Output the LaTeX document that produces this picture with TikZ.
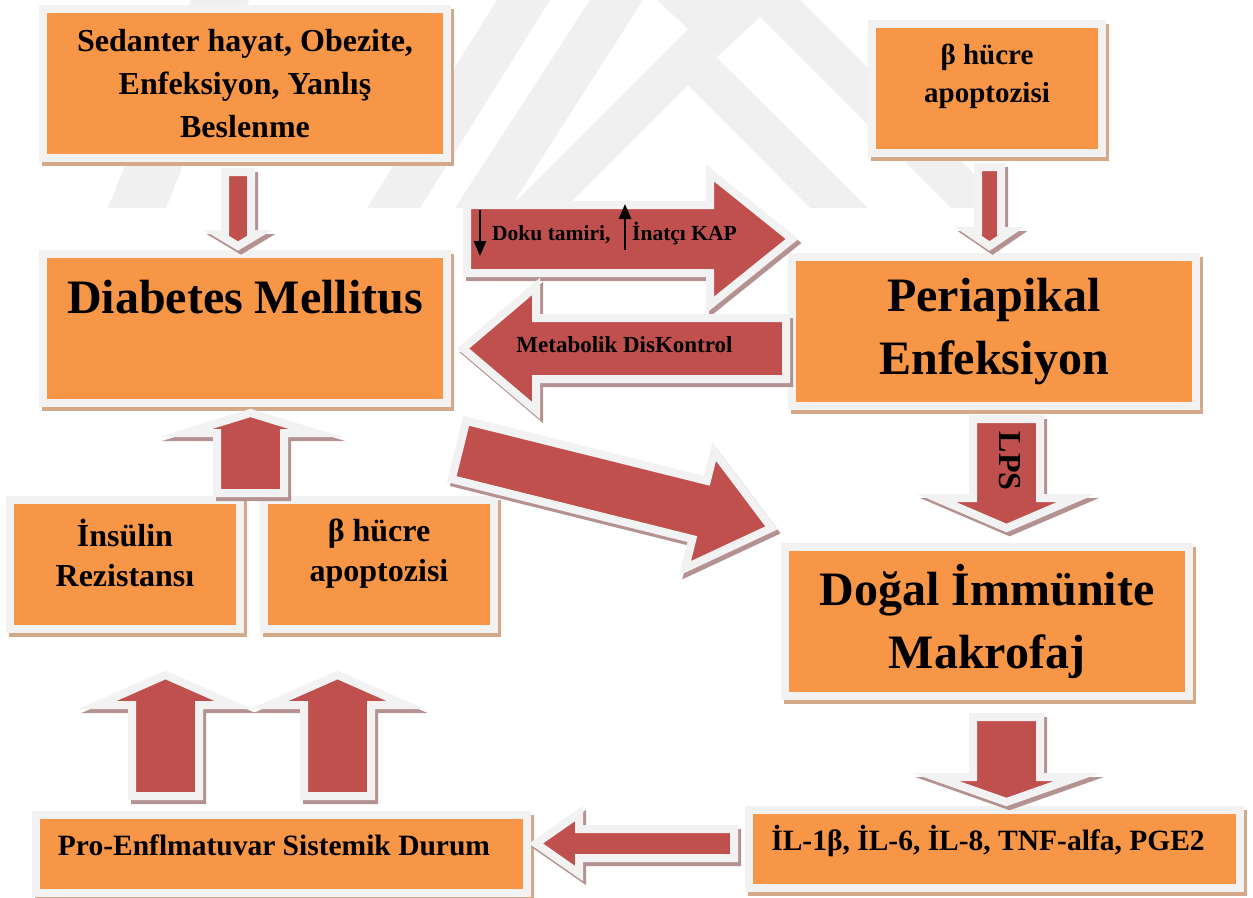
\documentclass[tikz,border=0pt]{standalone}
\usepackage{fontspec}
\setmainfont{Liberation Serif}
\usetikzlibrary{arrows.meta}
\definecolor{boxorange}{HTML}{F79646}
\definecolor{bordergray}{HTML}{F2F2F2}
\definecolor{boxshade}{HTML}{D3A98A}
\definecolor{arrowred}{HTML}{C0504D}
\definecolor{arrowshade}{HTML}{B59292}
\definecolor{wmgray}{HTML}{F0F0F0}
\tikzset{
  boxnode/.style={rectangle, draw=bordergray, fill=boxorange, line width=8pt, outer sep=0pt, inner sep=0pt,
    preaction={draw=boxshade, fill=boxshade, line width=8pt, transform canvas={xshift=3pt,yshift=-4pt}}},
  txt/.style={inner sep=0pt, align=center, font=\bfseries},
  pics/blockarrow/.style args={#1/#2/#3/#4}{code={
    \path[pic actions] (0,-#3) -- (#2,-#3) -- (#2,-#4) -- (#1,0) -- (#2,#4) -- (#2,#3) -- (0,#3) -- cycle;
  }},
  arrowshadow/.style={draw=arrowshade, fill=arrowshade, line width=8pt, line join=miter, miter limit=12},
  arrowbody/.style={draw=bordergray, fill=arrowred, line width=8pt, line join=miter, miter limit=12},
  smallarrow/.style={line width=2.4pt, -{Triangle[width=12pt,length=15pt]}},
  watermark/.style={fill=wmgray, draw=none}
}
\newcommand\drawblockarrow[3]{%
  \pic[arrowshadow, rotate=#1] at ([shift={(3,4)}]#2) {blockarrow=#3};
  \pic[arrowbody, rotate=#1] at (#2) {blockarrow=#3};}
\begin{document}
\begin{tikzpicture}[x=1pt,y=-1pt]
\useasboundingbox[fill=white] (0,0) rectangle (1253,897);
% watermark
\path[watermark] (509,208) -- (688,29) -- (868,208) -- (810,208) -- (688,85) -- (565,208) -- cycle;
\path[watermark] (657,0) -- (800,0) -- (1008,208) -- (951,208) -- (760,17) -- (717,57) -- (688,29) -- cycle;
\path[watermark] (455,208) -- (510,208) -- (643,0) -- (590,0) -- cycle;
\path[watermark] (367,208) -- (420,208) -- (550,0) -- (497,0) -- cycle;
\path[watermark] (108,208) -- (166,208) -- (249,0) -- (191,0) -- cycle;
% boxes
\node[boxnode, minimum width=404pt, minimum height=149pt] (b1) at (245,83.5) {};
\node[boxnode, minimum width=404pt, minimum height=149pt] (b2) at (245,328.5) {};
\node[boxnode, minimum width=230pt, minimum height=129pt] (b3) at (987,88.5) {};
\node[boxnode, minimum width=404pt, minimum height=149pt] (b4) at (994,331.5) {};
\node[boxnode, minimum width=404pt, minimum height=149pt] (b5) at (987,621.5) {};
\node[boxnode, minimum width=491pt, minimum height=78pt] (b6) at (994.5,849) {};
\node[boxnode, minimum width=491pt, minimum height=78pt] (b7) at (281.5,854) {};
\node[boxnode, minimum width=230pt, minimum height=129pt] (b8) at (125,564.5) {};
\node[boxnode, minimum width=230pt, minimum height=129pt] (b9) at (379,564.5) {};
% texts
\node[txt, font=\fontsize{32}{43}\selectfont\bfseries] (t1) at (245,84) {Sedanter hayat, Obezite,\\Enfeksiyon, Yanlış\\Beslenme};
\node[txt, font=\fontsize{48}{63}\selectfont\bfseries, anchor=base] (t2) at (245,313) {Diabetes Mellitus};
\node[txt, font=\fontsize{29}{38}\selectfont\bfseries] (t3) at (987,76) {β hücre\\apoptozisi};
\node[txt, font=\fontsize{48}{63}\selectfont\bfseries] (t4) at (994,331.5) {Periapikal\\Enfeksiyon};
\node[txt, font=\fontsize{48}{63}\selectfont\bfseries] (t5) at (987,621.5) {Doğal İmmünite\\Makrofaj};
\node[txt, font=\fontsize{29.5}{36}\selectfont\bfseries, anchor=base] (t6) at (988,850) {İL-1β, İL-6, İL-8, TNF-alfa, PGE2};
\node[txt, font=\fontsize{29.5}{36}\selectfont\bfseries, anchor=base] (t7) at (274,855) {Pro-Enflmatuvar Sistemik Durum};
\node[txt, font=\fontsize{32}{40}\selectfont\bfseries] (t8) at (125,553) {İnsülin\\Rezistansı};
\node[txt, font=\fontsize{32}{40}\selectfont\bfseries] (t9) at (379,554) {β hücre\\apoptozisi};
% block arrows
\coordinate (a1) at (238,172);
\coordinate (a2) at (989.5,167);
\coordinate (a3) at (1006.5,419);
\coordinate (a4) at (1006.5,717);
\coordinate (a5) at (467,239);
\coordinate (a6) at (786,348.5);
\coordinate (a7) at (459,450);
\coordinate (a8) at (734,843.5);
\coordinate (a9) at (250.5,493);
\coordinate (a10) at (165.5,796);
\coordinate (a11) at (337.5,796);
\drawblockarrow{-90}{a1}{74/62/13/20}
\drawblockarrow{-90}{a2}{79/64/11.5/22}
\drawblockarrow{-90}{a3}{109/79/33.5/70}
\drawblockarrow{-90}{a4}{85/60/33.5/71}
\drawblockarrow{0}{a5}{325/243/34/66}
\drawblockarrow{180}{a6}{323/250/30.5/62}
\drawblockarrow{-14}{a7}{322/248/30/60}
\drawblockarrow{180}{a8}{198/155/14.5/30}
\drawblockarrow{90}{a9}{80/60/33.5/65}
\drawblockarrow{90}{a10}{121/91/33.5/68}
\drawblockarrow{90}{a11}{121/91/33.5/68}
% arrow labels
\node[txt, font=\fontsize{32}{36}\selectfont\bfseries, rotate=-90] (lps) at (1010,461) {LPS};
\node[txt, font=\fontsize{21.5}{24}\selectfont\bfseries, anchor=base west] (dk) at (492,240) {Doku tamiri,};
\node[txt, font=\fontsize{21.5}{24}\selectfont\bfseries, anchor=base west] (ik) at (632,240) {İnatçı KAP};
\node[txt, font=\fontsize{23}{26}\selectfont\bfseries, anchor=base] (md) at (624.5,352) {Metabolik DisKontrol};
\coordinate (d1) at (480,210);
\coordinate (d2) at (480,256);
\coordinate (u1) at (625,250);
\coordinate (u2) at (625,204);
\draw[smallarrow] (d1) -- (d2);
\draw[smallarrow] (u1) -- (u2);
\end{tikzpicture}
\end{document}
